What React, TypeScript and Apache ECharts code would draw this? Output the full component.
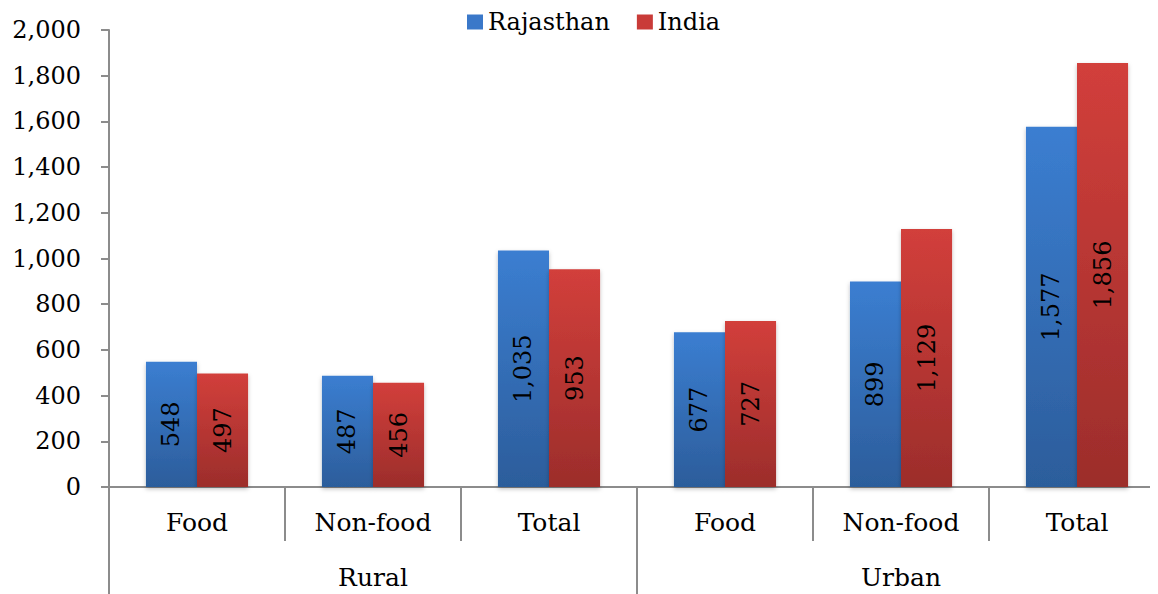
import React, { useEffect, useRef } from "react";
import * as echarts from "echarts";

const subCategories = ["Food", "Non-food", "Total", "Food", "Non-food", "Total"];
const groups = ["Rural", "Urban"];
const rajasthan = [548, 487, 1035, 677, 899, 1577];
const india = [497, 456, 953, 727, 1129, 1856];

const FONT = "DejaVu Serif";
const AXIS_GRAY = "#8c8c8c";

const fmt = (v: number) => v.toLocaleString("en-US");

export default function App() {
  const ref = useRef<HTMLDivElement>(null);
  useEffect(() => {
    if (!ref.current) return;
    const chart = echarts.init(ref.current, null, { renderer: "svg" });
    const grad = (top: string, bottom: string) =>
      new echarts.graphic.LinearGradient(0, 0, 0, 1, [
        { offset: 0, color: top },
        { offset: 1, color: bottom },
      ]);
    const label = {
      show: true,
      position: "inside",
      rotate: 90,
      color: "#000",
      fontFamily: FONT,
      fontSize: 24,
      formatter: (p: any) => fmt(p.value),
    };
    chart.setOption({
      animation: false,
      textStyle: { fontFamily: FONT },
      legend: {
        top: -3,
        left: 454,
        itemWidth: 16,
        itemHeight: 15,
        itemGap: 27,
        textStyle: { fontFamily: FONT, fontSize: 24, color: "#000" },
        data: [
          { name: "Rajasthan", icon: "rect", itemStyle: { color: "#3a78c9" } },
          { name: "India", icon: "rect", itemStyle: { color: "#c93b38" } },
        ],
      },
      grid: { left: 101, right: 0, top: 22, bottom: 107, containLabel: false },
      xAxis: [
        {
          type: "category",
          data: subCategories,
          position: "bottom",
          axisLine: { show: true, lineStyle: { color: AXIS_GRAY, width: 2 } },
          axisTick: {
            show: true,
            interval: 0,
            length: 54,
            alignWithLabel: false,
            lineStyle: { color: AXIS_GRAY, width: 2 },
          },
          axisLabel: {
            interval: 0,
            margin: 23,
            color: "#000",
            fontFamily: FONT,
            fontSize: 25,
          },
        },
        {
          type: "category",
          data: groups,
          position: "bottom",
          axisLine: { show: false },
          axisTick: {
            show: true,
            interval: 0,
            length: 110,
            lineStyle: { color: AXIS_GRAY, width: 2 },
          },
          axisLabel: {
            interval: 0,
            margin: 78,
            color: "#000",
            fontFamily: FONT,
            fontSize: 25,
          },
        },
      ],
      yAxis: {
        type: "value",
        min: 0,
        max: 2000,
        interval: 200,
        axisLine: { show: true, lineStyle: { color: AXIS_GRAY, width: 2 } },
        axisTick: { show: true, length: 8, lineStyle: { color: AXIS_GRAY, width: 2 } },
        splitLine: { show: false },
        axisLabel: {
          color: "#000",
          fontFamily: FONT,
          fontSize: 24,
          margin: 28,
          formatter: (v: number) => fmt(v),
        },
      },
      series: [
        {
          name: "Rajasthan",
          type: "bar",
          xAxisIndex: 0,
          data: rajasthan,
          barWidth: "29%",
          barGap: "0%",
          itemStyle: {
            color: grad("#3b7ed1", "#2c5d9b"),
            shadowColor: "rgba(0,0,0,0.25)",
            shadowBlur: 4,
            shadowOffsetY: 2,
          },
          label,
        },
        {
          name: "India",
          type: "bar",
          xAxisIndex: 0,
          data: india,
          barWidth: "29%",
          barGap: "0%",
          itemStyle: {
            color: grad("#d23f3b", "#9c2d2b"),
            shadowColor: "rgba(0,0,0,0.25)",
            shadowBlur: 4,
            shadowOffsetY: 2,
          },
          label,
        },
      ],
    });
    return () => chart.dispose();
  }, []);
  return (
    <div style={{ width: 1150, height: 586, overflow: "hidden" }}>
      <div ref={ref} style={{ width: 1157, height: 586 }} />
    </div>
  );
}
